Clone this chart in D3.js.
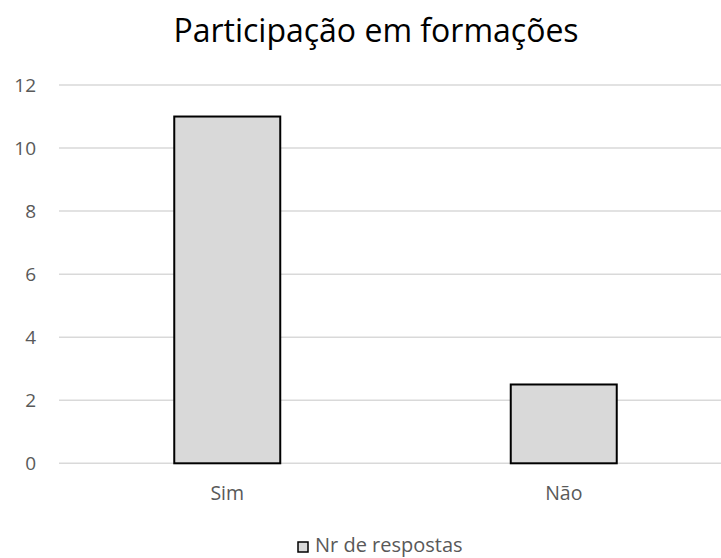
<!DOCTYPE html>
<html>
<head>
<meta charset="utf-8">
<script src="https://cdn.jsdelivr.net/npm/d3@7"></script>
<style>
  body { margin: 0; background: #fff; }
  text { font-family: "Open Sans", sans-serif; }
</style>
</head>
<body>
<div id="chart"></div>
<script>
// data
var categories = ["Sim", "Não"];
var values = [11, 2.5];
var yTicks = [0, 2, 4, 6, 8, 10, 12];
var seriesName = "Nr de respostas";
var title = "Participação em formações";

var W = 721, H = 558;

var svg = d3.select("#chart").append("svg")
  .attr("width", W)
  .attr("height", H);

// plot area (right side runs off the picture, like the original)
var x = d3.scaleBand()
  .domain(categories)
  .range([59, 732])
  .paddingInner(0.685)
  .paddingOuter(0.3425);

var y = d3.scaleLinear()
  .domain([0, 12])
  .range([463.3, 85]);

// gridlines
svg.append("g").selectAll("line")
  .data(yTicks)
  .enter().append("line")
  .attr("x1", 59)
  .attr("x2", 732)
  .attr("y1", d => y(d))
  .attr("y2", d => y(d))
  .attr("stroke", "#d9d9d9")
  .attr("stroke-width", 1.5);

// y labels
var yAxis = d3.axisLeft(y).tickValues(yTicks).tickSize(0).tickPadding(0);
var gy = svg.append("g")
  .attr("transform", "translate(36,0)")
  .call(yAxis);
gy.select(".domain").remove();
gy.selectAll("text")
  .attr("font-size", 19)
  .attr("font-family", "Open Sans, sans-serif")
  .attr("fill", "#595959");

// bars
svg.append("g").selectAll("rect")
  .data(values)
  .enter().append("rect")
  .attr("x", (d, i) => x(categories[i]))
  .attr("y", d => y(d))
  .attr("width", x.bandwidth())
  .attr("height", d => y(0) - y(d))
  .attr("fill", "#d9d9d9")
  .attr("stroke", "#000")
  .attr("stroke-width", 2);

// x labels
var xAxis = d3.axisBottom(x).tickSize(0).tickPadding(0);
var gx = svg.append("g")
  .attr("transform", "translate(0,486)")
  .call(xAxis);
gx.select(".domain").remove();
gx.selectAll("text")
  .attr("font-size", 19.5)
  .attr("font-family", "Open Sans, sans-serif")
  .attr("fill", "#595959");

// title
svg.append("text")
  .attr("x", 376)
  .attr("y", 42)
  .attr("text-anchor", "middle")
  .attr("font-size", 32)
  .attr("fill", "#000")
  .text(title);

// legend
var lg = svg.append("g");
lg.append("rect")
  .attr("x", 298)
  .attr("y", 542)
  .attr("width", 10)
  .attr("height", 10)
  .attr("fill", "#d9d9d9")
  .attr("stroke", "#000")
  .attr("stroke-width", 1.5);
lg.append("text")
  .attr("x", 315)
  .attr("y", 552)
  .attr("font-size", 20)
  .attr("fill", "#595959")
  .text(seriesName);
</script>
</body>
</html>
